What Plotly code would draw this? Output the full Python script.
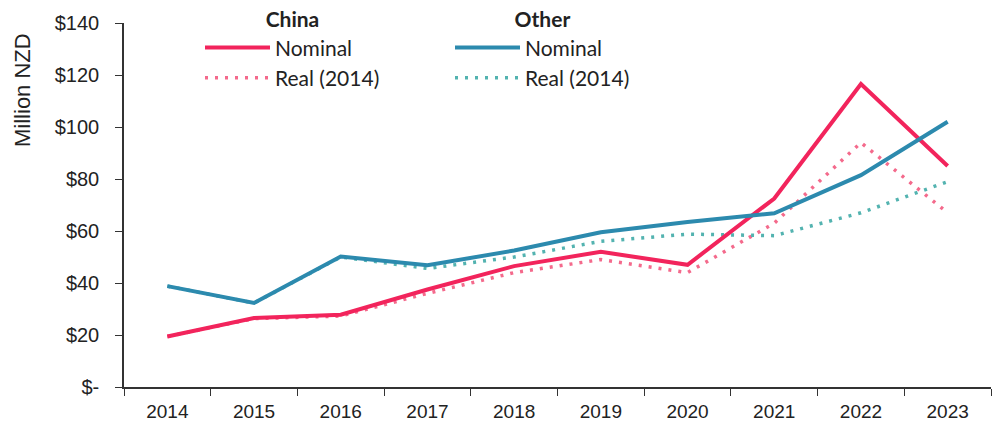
import plotly.graph_objects as go

years = ["2014", "2015", "2016", "2017", "2018", "2019", "2020", "2021", "2022", "2023"]
china_nominal = [19.4, 26.5, 27.8, 37.5, 46.5, 52.0, 47.0, 72.5, 116.5, 85.0]
china_real = [19.4, 26.3, 27.3, 36.0, 44.0, 49.0, 44.0, 63.0, 94.0, 67.0]
other_nominal = [38.8, 32.3, 50.2, 46.8, 52.5, 59.5, 63.5, 66.8, 81.5, 102.0]
other_real = [38.8, 32.3, 50.0, 45.6, 50.0, 56.0, 58.8, 58.2, 67.0, 79.0]
y_ticks = [0, 20, 40, 60, 80, 100, 120, 140]
y_ticktext = ["$-", "$20", "$40", "$60", "$80", "$100", "$120", "$140"]

RED = "#F2245C"
RED_L = "#F46A8C"
BLUE = "#2C8AAE"
TEAL_L = "#53B3B0"

fig = go.Figure()
fig.add_trace(go.Scatter(x=years, y=china_real, mode="lines", name="Real (2014)",
                         line=dict(color=RED_L, width=3.5, dash="3px,7px"), legend="legend", legendrank=2))
fig.add_trace(go.Scatter(x=years, y=other_real, mode="lines", name="Real (2014)",
                         line=dict(color=TEAL_L, width=3.5, dash="3px,7px"), legend="legend2", legendrank=2))
fig.add_trace(go.Scatter(x=years, y=china_nominal, mode="lines", name="Nominal",
                         line=dict(color=RED, width=4), legend="legend", legendrank=1))
fig.add_trace(go.Scatter(x=years, y=other_nominal, mode="lines", name="Nominal",
                         line=dict(color=BLUE, width=4), legend="legend2", legendrank=1))

legfont = dict(family="Lato, Open Sans, sans-serif", size=21, color="#222")
axfont = dict(family="Liberation Sans, Arial, sans-serif", size=19, color="#222")
fig.update_layout(
    width=996, height=433,
    margin=dict(l=124, r=5, t=23, b=46, autoexpand=False),
    plot_bgcolor="white", paper_bgcolor="white",
    showlegend=True,
    legend=dict(x=200/996, y=1.0, xref="container", yref="container", xanchor="left", yanchor="top",
                bgcolor="rgba(0,0,0,0)", font=legfont, itemwidth=65, traceorder="normal",
                tracegroupgap=0,
                title=dict(text="<b>China</b>", side="top center", font=legfont)),
    legend2=dict(x=450/996, y=1.0, xref="container", yref="container", xanchor="left", yanchor="top",
                 bgcolor="rgba(0,0,0,0)", font=legfont, itemwidth=65, traceorder="normal",
                 tracegroupgap=0,
                 title=dict(text="<b>Other</b>", side="top center", font=legfont)),
    xaxis=dict(type="category", range=[-0.5, 9.5], showgrid=False, showline=True, linecolor="#333",
               linewidth=1.5, ticks="outside", tickson="boundaries", ticklen=7, tickcolor="#333",
               tickangle=0, ticklabelstandoff=6, tickfont=axfont),
    yaxis=dict(range=[0, 140], tickvals=y_ticks, ticktext=y_ticktext, showgrid=False, zeroline=False,
               showline=True, linecolor="#333", linewidth=1.5, ticks="outside", ticklen=7, tickcolor="#333",
               ticklabelstandoff=12, tickfont=dict(family="Liberation Sans, Arial, sans-serif", size=20, color="#222")),
    annotations=[dict(text="Million NZD", xref="paper", yref="paper", x=(22 - 124) / 867,
                      y=(387 - 90) / 364, xanchor="center", yanchor="middle", textangle=-90,
                      showarrow=False, font=dict(family="Liberation Sans, Arial, sans-serif", size=22, color="#222"))],
)
fig.write_html("out.html", post_script="document.body.style.margin='0';",
               config={"displayModeBar": False})
